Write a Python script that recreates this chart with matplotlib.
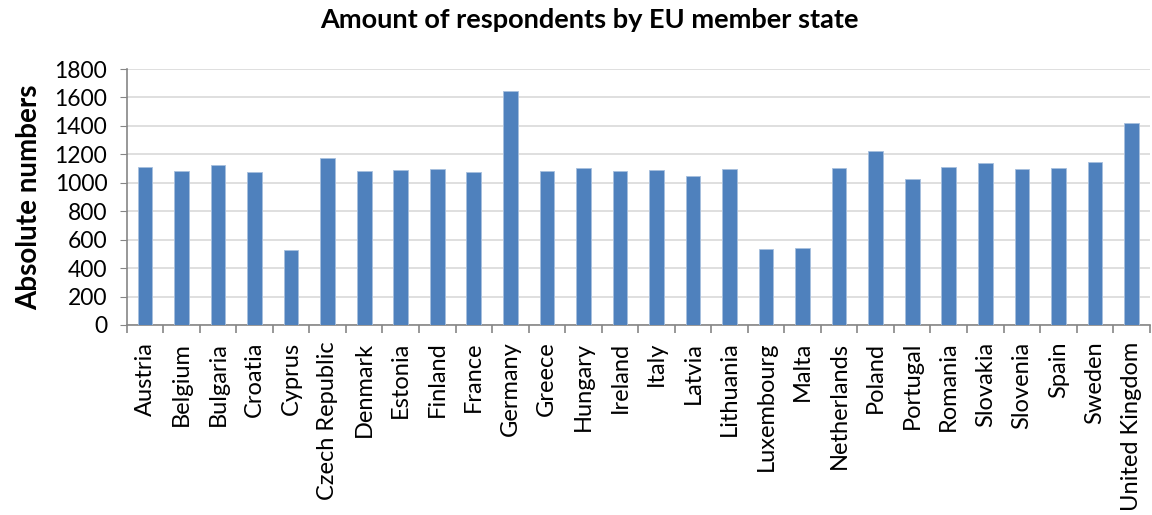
import matplotlib.pyplot as plt
import numpy as np

countries = ['Austria', 'Belgium', 'Bulgaria', 'Croatia', 'Cyprus', 'Czech Republic',
             'Denmark', 'Estonia', 'Finland', 'France', 'Germany', 'Greece', 'Hungary',
             'Ireland', 'Italy', 'Latvia', 'Lithuania', 'Luxembourg', 'Malta',
             'Netherlands', 'Poland', 'Portugal', 'Romania', 'Slovakia', 'Slovenia',
             'Spain', 'Sweden', 'United Kingdom']
respondents = [1112, 1082, 1122, 1075, 526, 1176, 1084, 1087, 1096, 1073, 1648, 1084,
               1103, 1080, 1089, 1051, 1096, 533, 540, 1101, 1223, 1030, 1108, 1141,
               1094, 1105, 1143, 1420]
yticks = np.arange(0, 1801, 200)

plt.rcParams['font.family'] = ['Lato', 'DejaVu Sans']

fig = plt.figure(figsize=(11.52, 5.15), dpi=100)
ax = fig.add_axes([0.110, 0.369, 0.888, 0.497])

x = np.arange(len(countries))
ax.bar(x, respondents, width=0.4, color='#4F81BD', edgecolor='#A7BFDE', linewidth=0.6, zorder=3)

ax.set_xlim(-0.5, len(countries) - 0.5)
ax.set_ylim(0, 1800)
ax.set_yticks(yticks)
ax.tick_params(axis='y', labelsize=16.5, length=5, color='#868686', direction='out', pad=9)
ax.yaxis.grid(True, color='#D9D9D9', linewidth=1.2, zorder=0)

ax.set_xticks(x)
ax.set_xticklabels(countries, rotation=90, fontsize=17)
ax.tick_params(axis='x', length=0, pad=12)
ax.set_xticks(np.arange(-0.5, len(countries), 1), minor=True)
ax.tick_params(axis='x', which='minor', length=6, color='#868686', width=1.2)

for s in ['top', 'right']:
    ax.spines[s].set_visible(False)
for s in ['left', 'bottom']:
    ax.spines[s].set_color('#868686')
    ax.spines[s].set_linewidth(1.2)

ax.set_ylabel('Absolute numbers', fontsize=20, fontweight='bold', labelpad=9)
fig.suptitle('Amount of respondents by EU member state', fontsize=19.5, fontweight='bold',
             x=0.512, y=0.985)

fig.savefig('out.png', dpi=100)
